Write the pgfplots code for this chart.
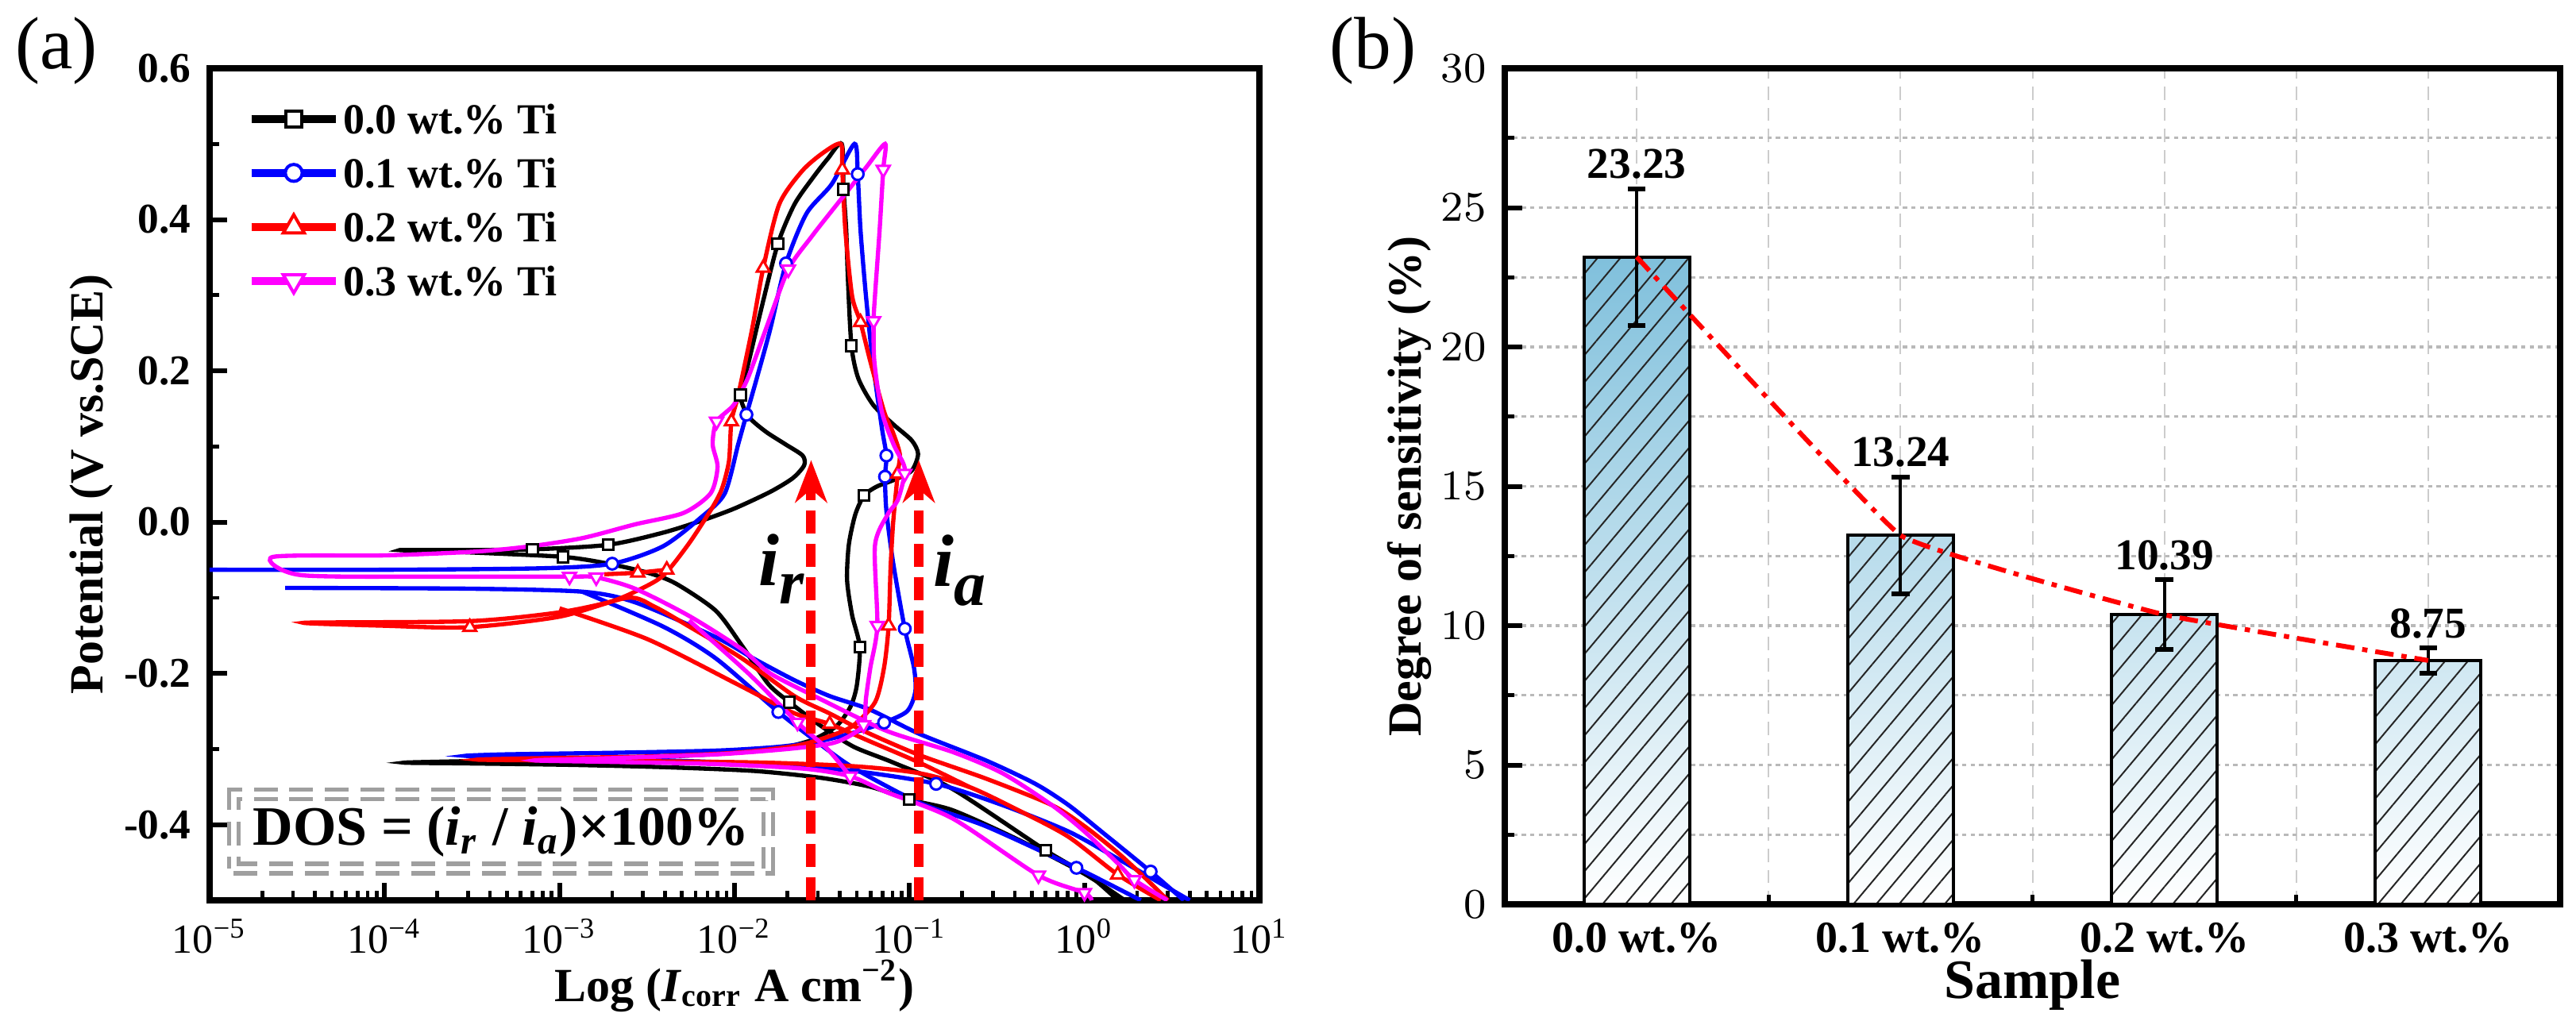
\documentclass[border=0pt]{standalone}
\usepackage{fontspec}
\setmainfont{Liberation Serif}
\usepackage{pgfplots}
\pgfplotsset{compat=1.18}
\usetikzlibrary{patterns,patterns.meta,arrows.meta}
\definecolor{barblue}{RGB}{128,192,220}
\definecolor{mag}{RGB}{255,0,255}
\newcommand{\fs}[1]{\fontsize{#1}{#1}\selectfont}
\begin{document}
\begin{tikzpicture}[x=1pt,y=1pt]
\useasboundingbox (0,0) rectangle (486.6,192.75);
\node[font=\fs{14}] at (10.65,183.15) {(a)};
\node[font=\fs{14}] at (259.35,183.15) {(b)};
%================ LEFT PANEL =================
\begin{axis}[
  at={(39.6pt,22.65pt)}, anchor=south west,
  scale only axis, width=198.3pt, height=157.2pt,
  xmode=log, xmin=1e-5, xmax=10, ymin=-0.5, ymax=0.6,
  axis line style={line width=1.1pt},
  tick align=inside, tick pos=left,
  major tick length=3.3pt, minor tick length=1.8pt,
  major tick style={line width=0.9pt, black},
  minor tick style={line width=0.7pt, black},
  ytick={-0.4,-0.2,0,0.2,0.4,0.6},
  yticklabels={-0.4,-0.2,0.0,0.2,0.4,0.6},
  minor ytick={-0.5,-0.3,-0.1,0.1,0.3,0.5},
  xtick={1e-5,1e-4,1e-3,1e-2,1e-1,1,10},
  xticklabels={10\textsuperscript{−5},10\textsuperscript{−4},10\textsuperscript{−3},10\textsuperscript{−2},10\textsuperscript{−1},10\textsuperscript{0},10\textsuperscript{1}},
  yticklabel style={font=\bfseries\fs{8}},
  xticklabel style={font=\fs{7.8}},
  ylabel={Potential (V vs.SCE)},
  ylabel style={font=\bfseries\fs{9}, at={(axis description cs:-0.1127,0.5)}, anchor=center},
  xlabel={Log (\textit{I}\textsubscript{corr} A cm\textsuperscript{−2})},
  xlabel style={font=\bfseries\fs{9}, at={(axis description cs:0.5,-0.103)}, anchor=center},
  legend image code/.code={\draw[mark repeat=2,mark phase=2] plot coordinates {(0pt,0pt) (8pt,0pt) (16pt,0pt)};},
  legend style={at={(axis description cs:0.035,0.962)}, anchor=north west, draw=none, fill=none,
     font=\bfseries\fs{8.1}, row sep=3.4pt, inner sep=0pt,
     nodes={text height=5.6pt, text depth=0pt, inner sep=0.6pt}},
  legend cell align=left,
]
\addlegendimage{black, line width=1.5pt, mark=square*, mark size=1.5pt, mark options={fill=white, line width=0.6pt}}
\addlegendentry{0.0 wt.\% Ti}
\addlegendimage{blue, line width=1.5pt, mark=*, mark size=1.6pt, mark options={fill=white, line width=0.6pt}}
\addlegendentry{0.1 wt.\% Ti}
\addlegendimage{red, line width=1.5pt, mark=triangle*, mark size=2.3pt, mark options={fill=white, line width=0.6pt}}
\addlegendentry{0.2 wt.\% Ti}
\addlegendimage{mag, line width=1.5pt, mark=triangle*, mark size=2.3pt, mark options={fill=white, line width=0.6pt, rotate=180}}
\addlegendentry{0.3 wt.\% Ti}

% ---- black, 0.0 wt.% ----
\addplot[black, line width=0.8pt, smooth, tension=0.45, forget plot] coordinates {
(1.70,-0.500) (1.00,-0.465) (0.42,-0.420) (0.177,-0.381) (0.100,-0.367) (0.060,-0.350)
(0.031,-0.338) (0.013,-0.329) (4e-3,-0.324) (1.2e-3,-0.321) (3e-4,-0.319) (1.3e-4,-0.318)
(3e-4,-0.316) (1.5e-3,-0.313) (5e-3,-0.309) (0.013,-0.303) (0.020,-0.297) (0.0285,-0.287)
(0.0385,-0.269) (0.046,-0.244) (0.050,-0.216) (0.052,-0.165) (0.047,-0.123) (0.044,-0.077)
(0.045,-0.030) (0.049,0.010) (0.055,0.035) (0.065,0.047) (0.082,0.056) (0.103,0.068)
(0.112,0.090) (0.103,0.108) (0.081,0.129) (0.062,0.155) (0.051,0.190) (0.0466,0.233)
(0.0445,0.320) (0.0435,0.386) (0.0420,0.440) (0.0410,0.500) (0.034,0.480) (0.028,0.455)
(0.022,0.420) (0.0177,0.368) (0.0145,0.290) (0.0120,0.210) (0.0108,0.168) (0.0120,0.140)
(0.0150,0.120) (0.0195,0.103) (0.0245,0.088) (0.0250,0.075) (0.0215,0.058) (0.016,0.040)
(0.0100,0.018) (0.0065,0.002) (0.0039,-0.014) (0.0019,-0.030) (7e-4,-0.036) (2.5e-4,-0.037)
(1.22e-4,-0.037) (3e-4,-0.040) (1.05e-3,-0.046) (1.9e-3,-0.055) (3.2e-3,-0.067) (4.6e-3,-0.081)
(7.8e-3,-0.117) (0.011,-0.163) (0.0156,-0.214) (0.0206,-0.238) (0.031,-0.269) (0.048,-0.297)
(0.081,-0.318) (0.177,-0.353) (0.60,-0.434) (1.10,-0.470) (1.55,-0.500)};
\addplot[only marks, forget plot, mark=square*, mark size=1.0pt, mark options={fill=white, draw=black, line width=0.45pt}] coordinates {
(0.0420,0.440) (0.0177,0.368) (0.0466,0.233) (0.0108,0.168) (0.055,0.035) (0.052,-0.165)
(0.0206,-0.238) (7e-4,-0.036) (1.05e-3,-0.046) (1.9e-3,-0.030) (0.100,-0.367) (0.60,-0.434)};

% ---- blue, 0.1 wt.% ----
\addplot[blue, line width=0.8pt, smooth, tension=0.45, forget plot] coordinates {
(4.0,-0.500) (2.6,-0.475) (1.55,-0.445) (0.81,-0.409) (0.339,-0.374) (0.142,-0.346)
(0.048,-0.329) (0.015,-0.320) (4e-3,-0.315) (1.2e-3,-0.312) (5e-4,-0.310) (2.9e-4,-0.309)
(5e-4,-0.307) (2e-3,-0.305) (8e-3,-0.302) (0.018,-0.297) (0.030,-0.290) (0.047,-0.279)
(0.0716,-0.265) (0.097,-0.250) (0.108,-0.224) (0.106,-0.192) (0.094,-0.141) (0.0807,-0.054)
(0.0738,0.015) (0.0725,0.060) (0.0738,0.088) (0.0695,0.125) (0.0617,0.212) (0.0564,0.299)
(0.0525,0.386) (0.0506,0.460) (0.0485,0.500) (0.036,0.447) (0.0258,0.408) (0.0197,0.342)
(0.016,0.255) (0.0134,0.190) (0.0117,0.142) (0.0105,0.103) (0.0088,0.038) (0.0065,0.007)
(0.0039,-0.032) (0.0020,-0.055) (8e-4,-0.061) (1e-4,-0.063) (1e-5,-0.063)};
\addplot[blue, line width=0.8pt, smooth, tension=0.45, forget plot] coordinates {
(2.7e-5,-0.087) (3e-4,-0.088) (1.35e-3,-0.092) (2.7e-3,-0.106) (7.8e-3,-0.152) (0.013,-0.181)
(0.022,-0.209) (0.035,-0.230) (0.0596,-0.248) (0.114,-0.280) (0.273,-0.315) (0.524,-0.346)
(0.81,-0.374) (1.25,-0.409) (2.39,-0.462) (3.7,-0.500)};
\addplot[blue, line width=0.8pt, smooth, tension=0.45, forget plot] coordinates {
(1.35e-3,-0.092) (3.9e-3,-0.138) (7.8e-3,-0.180) (0.0178,-0.251) (0.031,-0.294) (0.048,-0.325)
(0.114,-0.371) (0.273,-0.402) (0.9,-0.457) (2.1,-0.500)};
\addplot[only marks, forget plot, mark=*, mark size=1.1pt, mark options={fill=white, draw=blue, line width=0.45pt}] coordinates {
(0.0506,0.460) (0.0197,0.342) (0.0117,0.142) (0.0738,0.088) (0.0725,0.060) (0.094,-0.141)
(0.0716,-0.265) (0.0178,-0.251) (0.0020,-0.055) (0.142,-0.346) (0.9,-0.457) (2.39,-0.462)};

% ---- red, 0.2 wt.% ----
\addplot[red, line width=0.8pt, smooth, tension=0.45, forget plot] coordinates {
(2.73,-0.500) (1.55,-0.466) (0.81,-0.416) (0.42,-0.381) (0.219,-0.350) (0.114,-0.332)
(0.05,-0.323) (0.015,-0.318) (3e-3,-0.316) (8e-4,-0.315) (3.4e-4,-0.314) (8e-4,-0.312)
(3e-3,-0.310) (0.01,-0.305) (0.022,-0.296) (0.033,-0.285) (0.047,-0.270) (0.0636,-0.238)
(0.0716,-0.192) (0.076,-0.137) (0.078,-0.060) (0.0807,0.000) (0.0857,0.064) (0.088,0.090)
(0.080,0.120) (0.0716,0.146) (0.0598,0.212) (0.0525,0.264) (0.047,0.299) (0.043,0.386)
(0.0413,0.466) (0.0405,0.500) (0.032,0.488) (0.0243,0.464) (0.018,0.420) (0.0146,0.336)
(0.0126,0.255) (0.0105,0.168) (0.0096,0.133) (0.0093,0.081) (0.0085,0.045) (0.0075,0.020)
(0.0055,-0.028) (0.0039,-0.071) (0.0027,-0.092) (0.0019,-0.106) (9.5e-4,-0.120) (3e-4,-0.131)
(3.5e-5,-0.133) (1e-4,-0.137) (3e-4,-0.139) (1e-3,-0.125) (2.45e-3,-0.100) (3.5e-3,-0.112)
(5.5e-3,-0.138) (0.011,-0.180) (0.022,-0.230) (0.035,-0.253) (0.0546,-0.276) (0.114,-0.308)
(0.273,-0.339) (0.65,-0.374) (1.0,-0.402) (1.55,-0.437) (2.19,-0.469) (3.0,-0.500)};
\addplot[red, line width=0.8pt, smooth, tension=0.45, forget plot] coordinates {
(1e-3,-0.114) (3.2e-3,-0.155) (0.0105,-0.215) (0.0216,-0.252) (0.035,-0.267) (0.0596,-0.290)
(0.114,-0.318) (0.219,-0.350)};
\addplot[red, line width=0.8pt, forget plot] coordinates {(1.8e-3,-0.069) (2.8e-3,-0.067) (4.1e-3,-0.063)};
\addplot[only marks, forget plot, mark=triangle*, mark size=1.4pt, mark options={fill=white, draw=red, line width=0.45pt}] coordinates {
(0.0413,0.466) (0.0146,0.336) (0.0525,0.264) (0.0096,0.133) (0.0857,0.064) (0.076,-0.137)
(0.035,-0.267) (3.07e-4,-0.139) (2.8e-3,-0.067) (4.1e-3,-0.063) (1.55,-0.466)};

% ---- magenta, 0.3 wt.% ----
\addplot[mag, line width=0.8pt, smooth, tension=0.45, forget plot] coordinates {
(1.1,-0.500) (1.0,-0.490) (0.546,-0.467) (0.177,-0.392) (0.074,-0.357) (0.0458,-0.336)
(0.025,-0.326) (0.008,-0.320) (2e-3,-0.317) (7.2e-4,-0.315) (2e-3,-0.312) (0.008,-0.307)
(0.02,-0.300) (0.035,-0.293) (0.0444,-0.284) (0.0547,-0.268) (0.0564,-0.233) (0.0598,-0.192)
(0.0655,-0.137) (0.0635,-0.031) (0.075,0.010) (0.0857,0.029) (0.094,0.064) (0.092,0.078)
(0.081,0.103) (0.0695,0.146) (0.063,0.212) (0.0624,0.266) (0.0635,0.299) (0.0675,0.386)
(0.0708,0.466) (0.0726,0.500) (0.057,0.470) (0.0444,0.438) (0.035,0.408) (0.0275,0.377)
(0.0203,0.334) (0.0151,0.255) (0.0119,0.190) (0.0099,0.155) (0.0079,0.133) (0.0075,0.103)
(0.0080,0.073) (0.0073,0.038) (0.0051,0.012) (2.7e-3,-0.003) (1.36e-3,-0.021) (6.8e-4,-0.032)
(3.3e-4,-0.039) (1e-4,-0.044) (2.3e-5,-0.046) (3.3e-5,-0.070) (2e-4,-0.072) (1.14e-3,-0.072)
(1.62e-3,-0.073) (2.7e-3,-0.088) (5.5e-3,-0.124) (0.011,-0.168) (0.016,-0.200) (0.031,-0.234)
(0.074,-0.276) (0.177,-0.304) (0.34,-0.332) (0.65,-0.374) (1.0,-0.409) (1.55,-0.451)
(1.93,-0.473) (2.98,-0.500)};
\addplot[mag, line width=0.8pt, smooth, tension=0.45, forget plot] coordinates {
(5.5e-3,-0.130) (0.012,-0.200) (0.0229,-0.265) (0.034,-0.300) (0.0458,-0.336)};
\addplot[only marks, forget plot, mark=triangle*, mark size=1.4pt, mark options={fill=white, draw=mag, line width=0.45pt, rotate=180}] coordinates {
(0.0708,0.466) (0.0203,0.334) (0.0624,0.266) (0.0079,0.133) (0.094,0.064) (0.0655,-0.137)
(0.0547,-0.268) (0.0229,-0.265) (1.14e-3,-0.072) (1.62e-3,-0.073) (0.0458,-0.336)
(0.546,-0.467) (1.0,-0.490) (1.93,-0.473)};

% ---- arrows i_r, i_a ----
\addplot[red, line width=1.8pt, dash pattern=on 4.3pt off 2pt, forget plot,
  -{Stealth[width=6pt,length=8pt,inset=2.5pt]}] coordinates {(0.0274,-0.5) (0.0274,0.082)};
\addplot[red, line width=1.8pt, dash pattern=on 4.3pt off 2pt, forget plot,
  -{Stealth[width=6pt,length=8pt,inset=2.5pt]}] coordinates {(0.113,-0.5) (0.113,0.082)};
\node[font=\bfseries\itshape\fs{14}] at (axis cs:0.0185,-0.062) {i\raisebox{-3.5pt}{\fs{12}r}};
\node[font=\bfseries\itshape\fs{14}] at (axis cs:0.193,-0.064) {i\raisebox{-3.5pt}{\fs{12}a}};
\node[draw=gray!75, dash pattern=on 4.5pt off 2.2pt, double=white, double distance=1pt, line width=0.8pt,
  minimum width=101pt, minimum height=14pt, inner sep=1pt, font=\bfseries\fs{10.5}]
  at (axis cs:4.63e-4,-0.409) {DOS = (\textit{i}\textsubscript{\textit{r}} / \textit{i}\textsubscript{\textit{a}})×100\%};
\end{axis}
%================ RIGHT PANEL =================
\begin{axis}[
  at={(284.25pt,21.9pt)}, anchor=south west,
  scale only axis, width=199.35pt, height=157.95pt,
  xmin=-0.5, xmax=3.5, ymin=0, ymax=30,
  axis line style={line width=1.1pt},
  tick align=inside, tick pos=left,
  major tick length=3.3pt, minor tick length=1.8pt,
  major tick style={line width=0.9pt, black},
  minor tick style={line width=0.7pt, black},
  major x tick style={draw=none},
  xtick={0,1,2,3},
  xticklabels={0.0 wt.\%,0.1 wt.\%,0.2 wt.\%,0.3 wt.\%},
  minor xtick={0.5,1.5,2.5},
  ytick={0,5,10,15,20,25,30},
  minor ytick={2.5,7.5,12.5,17.5,22.5,27.5},
  xmajorgrids, xminorgrids, ymajorgrids, yminorgrids,
  major x grid style={gray!40, line width=0.3pt, dash pattern=on 2.5pt off 1.5pt},
  minor x grid style={gray!40, line width=0.3pt, dash pattern=on 2.5pt off 1.5pt},
  major y grid style={gray!55, line width=0.5pt, dash pattern=on 0.8pt off 0.8pt},
  minor y grid style={gray!55, line width=0.5pt, dash pattern=on 0.8pt off 0.8pt},
  yticklabel style={font=\bfseries\fs{8}},
  xticklabel style={font=\bfseries\fs{8.4}},
  ylabel={Degree of sensitivity (\%)},
  ylabel style={font=\bfseries\fs{9}, at={(axis description cs:-0.0903,0.5)}, anchor=center},
  xlabel={Sample},
  xlabel style={font=\bfseries\fs{10.5}, at={(axis description cs:0.5,-0.097)}, anchor=center},
]
\addplot[ybar, bar width=0.4, draw=black, line width=0.6pt, top color=barblue, bottom color=white]
  coordinates {(0,23.23) (1,13.24) (2,10.39) (3,8.75)};
\addplot[ybar, bar width=0.4, draw=black, line width=0.6pt, fill=none,
  pattern={Lines[angle=50,distance=3.3pt,line width=0.3pt]}, pattern color=black!85,
  error bars/.cd, y dir=both, y explicit,
  error bar style={line width=0.6pt, black, solid},
  error mark options={rotate=90, mark size=1.7pt, line width=0.9pt, black}]
  coordinates {(0,23.23) +- (0,2.45) (1,13.24) +- (0,2.10) (2,10.39) +- (0,1.25) (3,8.75) +- (0,0.45)};
\addplot[red, line width=0.9pt, smooth, tension=0.15, dash pattern=on 3.5pt off 1.5pt on 1pt off 1.5pt]
  coordinates {(0,23.23) (1,13.24) (2,10.39) (3,8.75)};
\node[font=\bfseries\fs{8.3}, anchor=south, inner sep=0pt, yshift=1.6pt] at (axis cs:0,25.68) {23.23};
\node[font=\bfseries\fs{8.3}, anchor=south, inner sep=0pt, yshift=1.6pt] at (axis cs:1,15.34) {13.24};
\node[font=\bfseries\fs{8.3}, anchor=south, inner sep=0pt, yshift=1.6pt] at (axis cs:2,11.64) {10.39};
\node[font=\bfseries\fs{8.3}, anchor=south, inner sep=0pt, yshift=1.6pt] at (axis cs:3,9.20) {8.75};
\end{axis}
\end{tikzpicture}
\end{document}
